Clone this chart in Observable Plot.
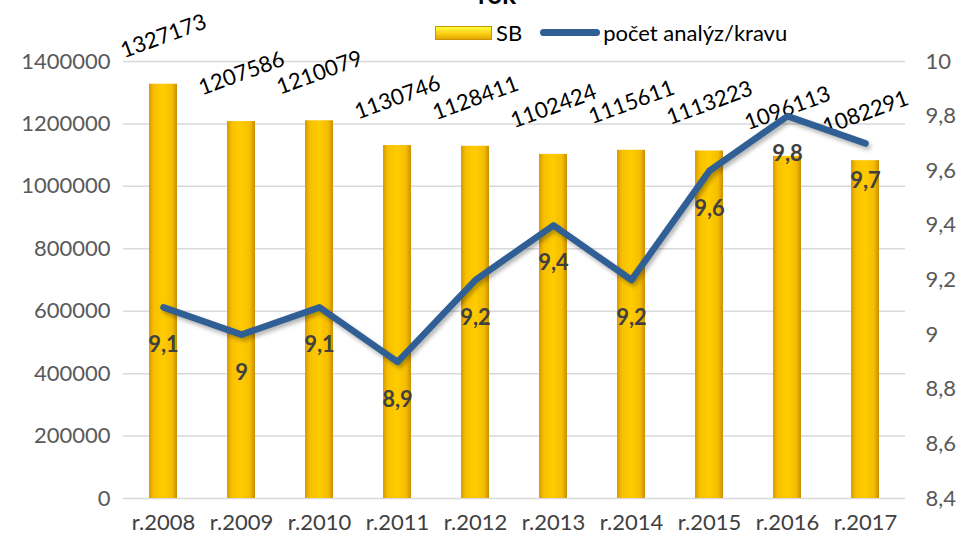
<!DOCTYPE html>
<html>
<head>
<meta charset="utf-8">
<script src="https://cdn.jsdelivr.net/npm/d3@7"></script>
<script src="https://cdn.jsdelivr.net/npm/@observablehq/plot@0.6"></script>
<style>
  html, body { margin: 0; padding: 0; background: #fff; overflow: hidden; }
  #wrap { position: relative; width: 964px; height: 542px; font-family: Lato, "Open Sans", sans-serif; }
  #title { position: absolute; left: 0; width: 964px; top: -22px; text-align: center; font-weight: bold; font-size: 26px; color: #000; padding-left: 30px; box-sizing: border-box; }
  #legend { position: absolute; top: 19px; left: 435px; display: flex; align-items: center; font-size: 22px; color: #000; }
  .sw-bar { width: 57px; height: 14px; background: linear-gradient(#ffff40, #ffd21a 50%, #e6a800); border: 1px solid #c89200; box-sizing: border-box; }
  .sw-line { width: 60px; height: 7px; border-radius: 4px; background: #2f5f95; margin-left: 18px; }
  .linemark { filter: drop-shadow(2px 3px 2px rgba(0,0,0,0.3)); }
  svg { overflow: visible; }
</style>
</head>
<body>
<div id="wrap">
  <div id="title">rok</div>
  <div id="legend">
    <div class="sw-bar"></div><span style="margin-left:4px">SB</span>
    <div class="sw-line"></div><span style="margin-left:3px">počet analýz/kravu</span>
  </div>
</div>
<script>
const years = ["r.2008","r.2009","r.2010","r.2011","r.2012","r.2013","r.2014","r.2015","r.2016","r.2017"];
const sb = [1327173, 1207586, 1210079, 1130746, 1128411, 1102424, 1115611, 1113223, 1096113, 1082291];
const analyzy = [9.1, 9.0, 9.1, 8.9, 9.2, 9.4, 9.2, 9.6, 9.8, 9.7];
const leftTicks = [0, 200000, 400000, 600000, 800000, 1000000, 1200000, 1400000];
const rightTicks = [8.4, 8.6, 8.8, 9.0, 9.2, 9.4, 9.6, 9.8, 10.0];

const leftMax = 1400000, rMin = 8.4, rMax = 10;
const toLeft = v => (v - rMin) / (rMax - rMin) * leftMax;
const fmtComma = v => String(+v.toFixed(1)).replace(".", ",");

const data = years.map((y, i) => ({year: y, sb: sb[i], a: analyzy[i], ay: toLeft(analyzy[i])}));

const chart = Plot.plot({
  width: 964,
  height: 542,
  marginTop: 61,
  marginBottom: 44,
  marginLeft: 123,
  marginRight: 59,
  style: {fontFamily: "Lato, 'Open Sans', sans-serif", fontSize: "22px", color: "#595959", background: "transparent", overflow: "visible"},
  x: {domain: years, paddingInner: 0.64, paddingOuter: 0.32, label: null},
  y: {domain: [0, leftMax], label: null},
  marks: [
    () => {
      const svg = d3.create("svg:defs");
      const g = svg.append("linearGradient").attr("id", "barGrad").attr("x1", "0").attr("x2", "1").attr("y1", "0").attr("y2", "0");
      g.append("stop").attr("offset", "0").attr("stop-color", "#d99a00");
      g.append("stop").attr("offset", "0.18").attr("stop-color", "#f8c000");
      g.append("stop").attr("offset", "0.5").attr("stop-color", "#ffcc00");
      g.append("stop").attr("offset", "0.82").attr("stop-color", "#f5bd00");
      g.append("stop").attr("offset", "1").attr("stop-color", "#c98e00");
      return svg.node();
    },
    Plot.gridY(leftTicks, {stroke: "#d9d9d9", strokeOpacity: 1, strokeWidth: 1.5}),
    Plot.axisY(leftTicks, {anchor: "left", tickSize: 0, tickPadding: 13, tickFormat: d => String(d), fill: "#595959", fontSize: 22, label: null}),
    Plot.axisY(rightTicks.map(toLeft), {anchor: "right", tickSize: 0, tickPadding: 20, tickFormat: d => fmtComma(rMin + d / leftMax * (rMax - rMin)), fill: "#595959", fontSize: 22, label: null, textAnchor: "start"}),
    Plot.axisX({tickSize: 0, tickPadding: 16, fill: "#404040", fontSize: 22, label: null}),
    Plot.barY(data, {x: "year", y: "sb", fill: "url(#barGrad)"}),
    Plot.text(data, {x: "year", y: "sb", text: d => String(d.sb), rotate: -20, dy: -48, fill: "#000", fontSize: 22, textAnchor: "middle"}),
    Plot.line(data, {x: "year", y: "ay", stroke: "#2f5f95", strokeWidth: 6.5, strokeLinecap: "round", strokeLinejoin: "round", className: "linemark"}),
    Plot.text(data, {x: "year", y: "ay", text: d => fmtComma(d.a), dy: 38, fill: "#404040", fontWeight: "bold", fontSize: 22, textAnchor: "middle"})
  ]
});
document.getElementById("wrap").prepend(chart);
</script>
</body>
</html>
